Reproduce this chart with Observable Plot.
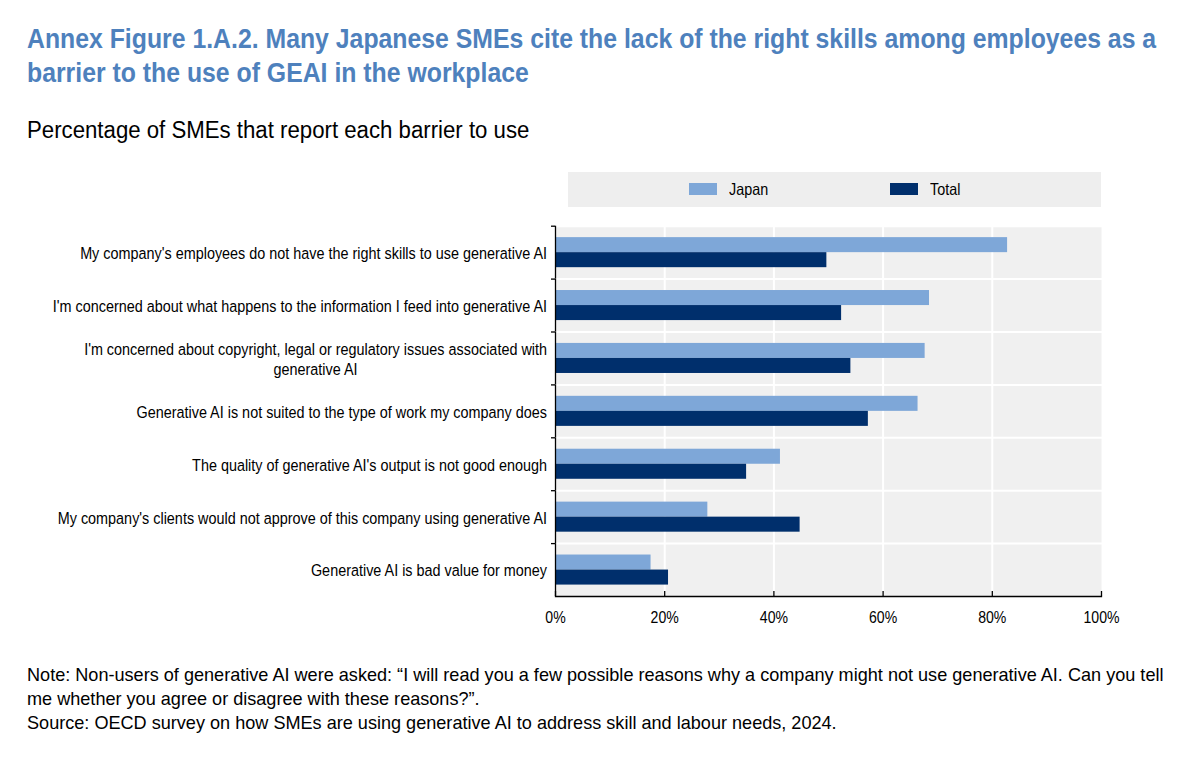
<!DOCTYPE html>
<html>
<head>
<meta charset="utf-8">
<script src="https://cdn.jsdelivr.net/npm/d3@7"></script>
<script src="https://cdn.jsdelivr.net/npm/@observablehq/plot@0.6"></script>
<style>
  body { margin: 0; width: 1200px; height: 765px; position: relative; background: #fff;
         font-family: "Liberation Sans", Arial, sans-serif; overflow: hidden; }
  .abs { position: absolute; white-space: nowrap; }
  #title { left: 27px; top: 22.3px; font-size: 28px; line-height: 34px; font-weight: bold; color: #4e81bd;
           transform: scaleX(0.886); transform-origin: 0 0; }
  #subtitle { left: 27px; top: 116px; font-size: 23.5px; line-height: 28px; color: #000;
              transform: scaleX(0.945); transform-origin: 0 0; }
  #legend { left: 568px; top: 172px; width: 533px; height: 35px; background: #eeeeee; }
  .sw { position: absolute; top: 11px; width: 28px; height: 12px; }
  .lt { position: absolute; top: 7px; font-size: 16.5px; line-height: 20px; color: #000;
        transform: scaleX(0.87); transform-origin: 0 0; }
  #chart { left: 0; top: 200px; line-height: 0; }
  #notes { left: 27px; top: 662.5px; font-size: 18.1px; line-height: 24.3px; color: #000; }
</style>
</head>
<body>
<div id="title" class="abs">Annex Figure 1.A.2. Many Japanese SMEs cite the lack of the right skills among employees as a<br>barrier to the use of GEAI in the workplace</div>
<div id="subtitle" class="abs">Percentage of SMEs that report each barrier to use</div>
<div id="legend" class="abs"></div>
<div id="chart" class="abs"></div>
<div id="notes" class="abs">Note: Non-users of generative AI were asked: “I will read you a few possible reasons why a company might not use generative AI. Can you tell<br>me whether you agree or disagree with these reasons?”.<br>Source: OECD survey on how SMEs are using generative AI to address skill and labour needs, 2024.</div>
<script>
const categories = [
  "My company's employees do not have the right skills to use generative AI",
  "I'm concerned about what happens to the information I feed into generative AI",
  "I'm concerned about copyright, legal or regulatory issues associated with generative AI",
  "Generative AI is not suited to the type of work my company does",
  "The quality of generative AI's output is not good enough",
  "My company's clients would not approve of this company using generative AI",
  "Generative AI is bad value for money"
];
const categoryLabels = [
  "My company's employees do not have the right skills to use generative AI",
  "I'm concerned about what happens to the information I feed into generative AI",
  "I'm concerned about copyright, legal or regulatory issues associated with\ngenerative AI",
  "Generative AI is not suited to the type of work my company does",
  "The quality of generative AI's output is not good enough",
  "My company's clients would not approve of this company using generative AI",
  "Generative AI is bad value for money"
];
const seriesNames = ["Japan", "Total"];
const japan = [82.8, 68.5, 67.7, 66.4, 41.2, 27.9, 17.5];
const total = [49.7, 52.4, 54.1, 57.3, 35.0, 44.8, 20.7];
const xTicks = [0, 20, 40, 60, 80, 100];
const colors = ["#7ea7d8", "#002f6c"];

const data = [];
categories.forEach((c, i) => {
  data.push({category: c, series: "Japan", value: japan[i]});
  data.push({category: c, series: "Total", value: total[i]});
});
const labelOf = new Map(categories.map((c, i) => [c, categoryLabels[i]]));

// legend
const legend = document.getElementById("legend");
const legendPos = [[121, 161], [322, 362]];
seriesNames.forEach((s, i) => {
  const sw = document.createElement("div");
  sw.className = "sw"; sw.style.left = legendPos[i][0] + "px"; sw.style.background = colors[i];
  const t = document.createElement("div");
  t.className = "lt"; t.style.left = legendPos[i][1] + "px"; t.textContent = s;
  legend.append(sw, t);
});

const H = 440, MT = 25.7, MB = 44;
const bandH = (H - MT - MB) / categories.length;
const font = '"Liberation Sans", Arial, sans-serif';

const chart = Plot.plot({
  width: 1200,
  height: H,
  marginLeft: 555,
  marginRight: 99,
  marginTop: MT,
  marginBottom: MB,
  style: {fontFamily: font, fontSize: "17px", color: "#000", background: "transparent", overflow: "visible"},
  x: {domain: [0, 100]},
  y: {domain: seriesNames, paddingInner: 0, paddingOuter: 0.76, round: false, axis: null},
  fy: {domain: categories, padding: 0, round: false, axis: null},
  color: {domain: seriesNames, range: colors},
  marks: [
    Plot.frame({fill: "#f0f0f0"}),
    Plot.gridX({ticks: [20, 40, 60, 80], stroke: "white", strokeOpacity: 1, strokeWidth: 2}),
    Plot.frame({anchor: "top", stroke: "white", strokeOpacity: 1, strokeWidth: 2}),
    Plot.barX(data, {x: "value", y: "series", fy: "category", fill: "series"}),
    Plot.ruleX([0], {stroke: "#000", strokeWidth: 1.3}),
    Plot.frame({anchor: "bottom", stroke: "#000", strokeWidth: 1.3, facetAnchor: "bottom"}),
    Plot.axisFy({anchor: "left", tickSize: 0, tickPadding: 8.5, fontSize: 17, lineHeight: 1.18, tickFormat: d => labelOf.get(d), label: null}),
    Plot.axisFy({anchor: "left", tickSize: 4, text: null, dy: -bandH / 2, label: null, strokeWidth: 1.3}),
    Plot.axisX({ticks: xTicks, tickSize: 0, tickPadding: 15.5, fontSize: 16, tickFormat: d => d + "%", label: null}),
    Plot.axisX({ticks: xTicks, tickSize: 5, text: null, dy: -5, label: null, strokeWidth: 1.3})
  ]
});
document.getElementById("chart").append(chart);

// condense label glyphs horizontally to match the narrow face of the reference
chart.querySelectorAll("text").forEach(t => {
  const sx = t.textContent.endsWith("%") ? 0.88 : 0.847;
  const tr = t.getAttribute("transform");
  if (tr) {
    t.setAttribute("transform", tr + ` scale(${sx},1)`);
  } else {
    const x = parseFloat(t.getAttribute("x") || "0"), y = parseFloat(t.getAttribute("y") || "0");
    t.removeAttribute("x"); t.removeAttribute("y");
    t.setAttribute("transform", `translate(${x},${y}) scale(${sx},1)`);
  }
  // center the second line of a wrapped label under the first
  const ts = t.querySelectorAll("tspan");
  if (ts.length === 2) {
    const w1 = ts[0].getComputedTextLength(), w2 = ts[1].getComputedTextLength();
    const x0 = parseFloat(ts[1].getAttribute("x") || "0");
    ts[1].setAttribute("x", x0 - (w1 - w2) / 2);
  }
});
</script>
</body>
</html>
